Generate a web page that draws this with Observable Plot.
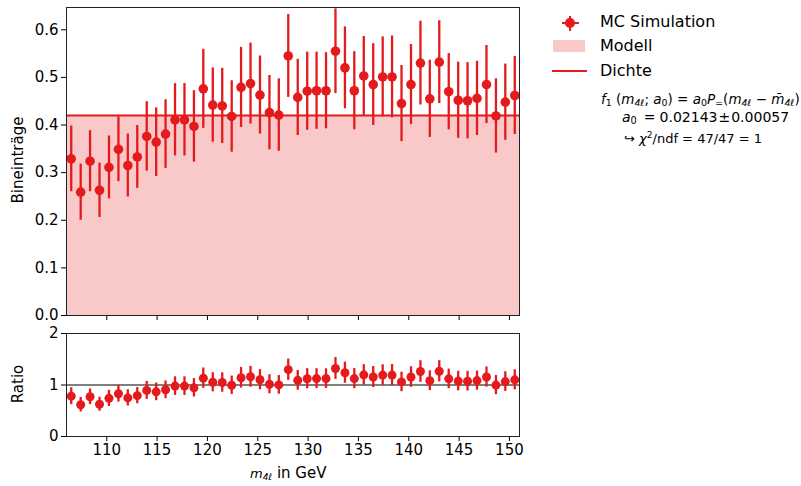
<!DOCTYPE html>
<html><head><meta charset="utf-8">
<script src="https://cdn.jsdelivr.net/npm/d3@7"></script>
<script src="https://cdn.jsdelivr.net/npm/@observablehq/plot@0.6"></script>
<style>
body{margin:0;background:#fff;font-family:"DejaVu Sans",sans-serif;overflow:hidden;}
#wrap{position:relative;width:801px;height:486px;overflow:hidden;background:#fff;}
.abs{position:absolute;white-space:nowrap;color:#000;line-height:1;}
.plot{position:absolute;left:0;}
sub{font-size:70%;vertical-align:-0.25em;}
</style></head><body><div id="wrap"></div>
<script>
// bin centres (m4l, GeV)
const mass = [106.47,107.41,108.34,109.28,110.22,111.16,112.09,113.03,113.97,114.91,115.84,116.78,117.72,118.66,119.59,120.53,121.47,122.41,123.34,124.28,125.22,126.16,127.09,128.03,128.97,129.91,130.84,131.78,132.72,133.66,134.59,135.53,136.47,137.41,138.34,139.28,140.22,141.16,142.09,143.03,143.97,144.91,145.84,146.78,147.72,148.66,149.59,150.53];
// MC simulation bin contents
const mc = [0.329,0.259,0.324,0.263,0.311,0.349,0.315,0.333,0.376,0.364,0.381,0.411,0.411,0.397,0.476,0.442,0.440,0.418,0.479,0.487,0.463,0.426,0.421,0.545,0.458,0.471,0.472,0.472,0.555,0.520,0.472,0.503,0.485,0.501,0.501,0.445,0.485,0.530,0.455,0.532,0.470,0.452,0.451,0.456,0.485,0.419,0.448,0.462];
// MC uncertainties
const mcErr = [0.069,0.059,0.064,0.057,0.066,0.068,0.066,0.066,0.073,0.072,0.072,0.076,0.076,0.075,0.083,0.078,0.079,0.075,0.084,0.085,0.082,0.078,0.076,0.087,0.080,0.082,0.081,0.080,0.089,0.086,0.082,0.083,0.086,0.084,0.086,0.080,0.084,0.088,0.081,0.087,0.080,0.080,0.080,0.078,0.082,0.078,0.080,0.082];
// fitted model (Dichte) level
const modelLevel = 0.42;
const xDomain = [106, 151];
const xTicks = [110,115,120,125,130,135,140,145,150];
const yTicks = [0,0.1,0.2,0.3,0.4,0.5,0.6];
const ratioTicks = [0,1,2];
const red = "#e41a1c";

const rows = mass.map((m,i)=>({m, v: mc[i], e: mcErr[i], r: mc[i]/modelLevel, re: mcErr[i]/modelLevel}));
const modelRows = [{x1: xDomain[0], x2: xDomain[1], y: modelLevel}];
const wrap = document.getElementById("wrap");
const style = {fontFamily: "DejaVu Sans", fontSize: "15px", color: "#000", background: "transparent", overflow: "visible"};

const main = Plot.plot({
  width: 520, height: 325, marginLeft: 66, marginRight: 1, marginTop: 7, marginBottom: 10,
  style,
  x: {domain: xDomain, ticks: xTicks, tickFormat: () => "", tickSize: 5, label: null},
  y: {domain: [0, 0.6468], ticks: yTicks, tickFormat: d3.format(".1f"), tickSize: 5, tickPadding: 3, label: null},
  marks: [
    Plot.rect(modelRows, {x1: "x1", x2: "x2", y1: 0, y2: "y", fill: red, fillOpacity: 0.24}),
    Plot.ruleY([modelLevel], {stroke: red, strokeWidth: 2}),
    Plot.ruleX(rows, {x: "m", y1: d => d.v - d.e, y2: d => d.v + d.e, stroke: red, strokeWidth: 2.3, clip: true}),
    Plot.dot(rows, {x: "m", y: "v", r: 4.8, fill: red, clip: true}),
    Plot.frame({stroke: "#222"})
  ]
});
main.classList.add("plot"); main.style.top = "0px";
wrap.appendChild(main);

const ratio = Plot.plot({
  width: 520, height: 160, marginLeft: 66, marginRight: 1, marginTop: 7, marginBottom: 50,
  style,
  x: {domain: xDomain, ticks: xTicks, tickFormat: d3.format("d"), tickSize: 5, tickPadding: 3, label: null},
  y: {domain: [0, 2], ticks: ratioTicks, tickFormat: d3.format("d"), tickSize: 5, tickPadding: 3, label: null},
  marks: [
    Plot.ruleY([1], {stroke: "#000", strokeWidth: 1}),
    Plot.ruleX(rows, {x: "m", y1: d => d.r - d.re, y2: d => d.r + d.re, stroke: red, strokeWidth: 2.3, clip: true}),
    Plot.dot(rows, {x: "m", y: "r", r: 4.5, fill: red, clip: true}),
    Plot.frame({stroke: "#222"})
  ]
});
ratio.classList.add("plot"); ratio.style.top = "326px";
wrap.appendChild(ratio);

function addHTML(html, css){
  const d = document.createElement("div");
  d.className = "abs"; d.innerHTML = html;
  Object.assign(d.style, css);
  wrap.appendChild(d); return d;
}
// axis labels
addHTML("Bineinträge", {left: "18px", top: "160px", fontSize: "15px", transform: "translate(-50%,-50%) rotate(-90deg)"});
addHTML("Ratio", {left: "18px", top: "384px", fontSize: "15px", transform: "translate(-50%,-50%) rotate(-90deg)"});
addHTML('<i style="font-size:13px">m</i><sub style="font-size:9px;font-style:italic">4ℓ</sub> in GeV', {left: "250px", top: "474px", fontSize: "15px", transform: "translateY(-50%)"});

// legend
addHTML("", {left: "561.5px", top: "21.5px", width: "17px", height: "2.3px", background: red});
addHTML("", {left: "569px", top: "16px", width: "2.3px", height: "14.7px", background: red});
addHTML("", {left: "565.4px", top: "18px", width: "9.6px", height: "9.6px", borderRadius: "50%", background: red});
addHTML("MC Simulation", {left: "600px", top: "22px", fontSize: "16px", transform: "translateY(-50%)"});
addHTML("", {left: "553px", top: "40px", width: "32px", height: "11.7px", background: "rgba(228,26,28,0.24)"});
addHTML("Modell", {left: "600px", top: "46px", fontSize: "16px", transform: "translateY(-50%)"});
addHTML("", {left: "552px", top: "70px", width: "35px", height: "2px", background: red});
addHTML("Dichte", {left: "600px", top: "71px", fontSize: "16px", transform: "translateY(-50%)"});

// fit result
addHTML('<i>f</i><sub>1</sub> (<i>m</i><sub><i>4ℓ</i></sub>; <i>a</i><sub>0</sub>) = <i>a</i><sub>0</sub><i>P</i><sub>=</sub>(<i>m</i><sub><i>4ℓ</i></sub> − <i>m̄</i><sub><i>4ℓ</i></sub>)', {left: "601px", top: "100px", fontSize: "13.5px", transform: "translateY(-50%)"});
addHTML('<i>a</i><sub>0</sub><span style="margin:0 4px 0 7px">=</span>0.02143<span style="margin:0 1px">±</span>0.00057', {left: "622px", top: "118px", fontSize: "14px", transform: "translateY(-50%)"});
addHTML('↪ <i>χ</i><sup style="font-size:70%">2</sup>/ndf = 47/47 = 1', {left: "624px", top: "138px", fontSize: "13px", transform: "translateY(-50%)"});
</script></body></html>
